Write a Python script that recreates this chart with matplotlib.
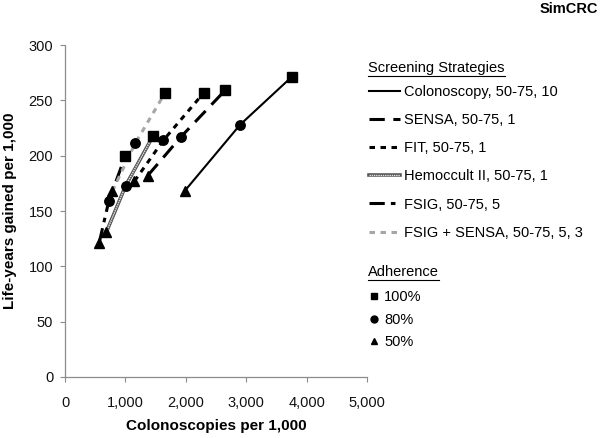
import matplotlib
matplotlib.use("Agg")
import matplotlib.pyplot as plt
from matplotlib.lines import Line2D
from matplotlib.legend_handler import HandlerTuple

plt.rcParams["font.family"] = ["Liberation Sans", "DejaVu Sans"]

# ---- data ----
STRATEGIES = ["Colonoscopy, 50-75, 10", "SENSA, 50-75, 1", "FIT, 50-75, 1",
              "Hemoccult II, 50-75, 1", "FSIG, 50-75, 5", "FSIG + SENSA, 50-75, 5, 3"]
ADHERENCE = ["100%", "80%", "50%"]
COLOS_100 = [3750, 2650, 2300, 1460, 1000, 1660]
COLOS_80 = [2900, 1920, 1630, 1005, 725, 1160]
COLOS_50 = [1980, 1370, 1150, 685, 565, 785]
LYG_100 = [271, 259, 257, 218, 200, 257]
LYG_80 = [228, 217, 214, 173, 159, 211]
LYG_50 = [168, 182, 177, 131, 121, 168]
XTICKS = [0, 1000, 2000, 3000, 4000, 5000]
YTICKS = [0, 50, 100, 150, 200, 250, 300]

# line styles per strategy
STYLES = [
    dict(color="black", lw=1.5, ls="-"),
    dict(color="black", lw=2.2, ls=(0, (5, 2.8))),
    dict(color="black", lw=2.2, ls=(0, (1.8, 1.8))),
    None,  # hemoccult: drawn as double line
    dict(color="black", lw=2.2, ls=(0, (5, 2, 1.5, 2))),
    dict(color="#a6a6a6", lw=2.2, ls=(0, (1.8, 1.8))),
]
MARKERS = ["s", "o", "^"]

W, H = 601, 438
fig = plt.figure(figsize=(W / 100, H / 100), dpi=100)
ax = fig.add_axes([65 / W, 61 / H, 302 / W, 332 / H])

handles = []
for i, name in enumerate(STRATEGIES):
    xs = [COLOS_50[i], COLOS_80[i], COLOS_100[i]]
    ys = [LYG_50[i], LYG_80[i], LYG_100[i]]
    if STYLES[i] is None:
        l1, = ax.plot(xs, ys, color="#555555", lw=2.6, zorder=2)
        l2, = ax.plot(xs, ys, color="#e6e6e6", lw=1.0, ls=(0, (1, 0.6)), zorder=2.1)
        handles.append((l1, l2))
    else:
        st = STYLES[i]
        l, = ax.plot(xs, ys, color=st["color"], lw=st["lw"], ls=st["ls"], zorder=2)
        handles.append(l)

for xs, ys, m in zip([COLOS_100, COLOS_80, COLOS_50], [LYG_100, LYG_80, LYG_50], MARKERS):
    ax.plot(xs, ys, ls="none", marker=m, color="black", ms=6.8, zorder=3)

ax.set_xlim(0, 5000)
ax.set_ylim(0, 300)
ax.set_xticks(XTICKS)
ax.set_xticklabels([f"{v:,}" for v in XTICKS])
ax.set_yticks(YTICKS)
for s in ["top", "right"]:
    ax.spines[s].set_visible(False)
for s in ["left", "bottom"]:
    ax.spines[s].set_color("#8c8c8c")
    ax.spines[s].set_linewidth(0.9)
ax.tick_params(axis="both", direction="out", length=3.5, color="#8c8c8c",
               labelsize=10.5, labelcolor="#111111")
ax.tick_params(axis="x", pad=10)
ax.tick_params(axis="y", pad=5)
ax.set_xlabel("Colonoscopies per 1,000", fontsize=11, fontweight="bold", labelpad=7)
ax.set_ylabel("Life-years gained per 1,000", fontsize=11, fontweight="bold", labelpad=8)

fig.text(598 / W, 1 - 9 / H, "SimCRC", ha="right", va="center",
         fontsize=10.5, fontweight="bold")

# legends
leg1 = fig.legend(handles, STRATEGIES, loc="upper left",
                  bbox_to_anchor=(369 / W, 1 - 85 / H), frameon=False, borderpad=0,
                  borderaxespad=0, handlelength=2.1, handletextpad=0.3,
                  labelspacing=0.97, fontsize=10.5,
                  handler_map={tuple: HandlerTuple(ndivide=1)})
mk_handles = [Line2D([], [], ls="none", marker=m, color="black", ms=5) for m in MARKERS]
leg2 = fig.legend(mk_handles, ADHERENCE, loc="upper left",
                  bbox_to_anchor=(369 / W, 1 - 290 / H), frameon=False, borderpad=0,
                  borderaxespad=0, handlelength=0.7, handletextpad=0.35,
                  labelspacing=0.6, fontsize=10.5)

# underlined legend titles
fig.canvas.draw()
r = fig.canvas.get_renderer()
for txt, ypx in [("Screening Strategies", 68), ("Adherence", 272)]:
    t = fig.text(368 / W, 1 - ypx / H, txt, ha="left", va="center", fontsize=10.5)
    bb = t.get_window_extent(renderer=r)
    fig.add_artist(Line2D([bb.x0 / W, bb.x1 / W], [(bb.y0 - 0.5) / H] * 2,
                          color="black", lw=0.8))

fig.savefig("out.png", dpi=100)
